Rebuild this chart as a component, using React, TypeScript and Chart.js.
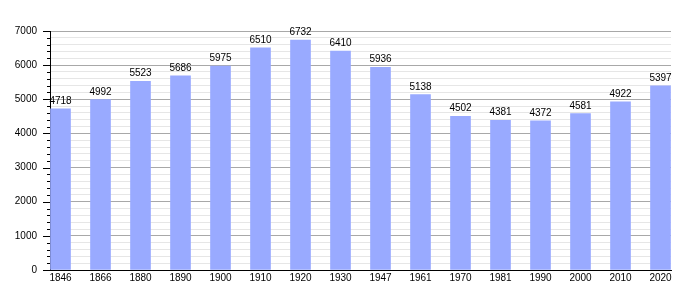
import React, { useEffect, useRef } from "react";
import { Chart, registerables } from "chart.js";

Chart.register(...registerables);

const years = ["1846", "1866", "1880", "1890", "1900", "1910", "1920", "1930", "1947", "1961", "1970", "1981", "1990", "2000", "2010", "2020"];
const population = [4718, 4992, 5523, 5686, 5975, 6510, 6732, 6410, 5936, 5138, 4502, 4381, 4372, 4581, 4922, 5397];
const yTickValues = Array.from({ length: 36 }, (_, i) => i * 200);

const FONT = '"Liberation Sans", Arial, sans-serif';

const valueLabels = {
  id: "valueLabels",
  afterDatasetsDraw(chart: any) {
    const ctx = chart.ctx;
    const meta = chart.getDatasetMeta(0);
    ctx.save();
    ctx.font = `10px ${FONT}`;
    ctx.fillStyle = "#000";
    ctx.textAlign = "center";
    ctx.textBaseline = "alphabetic";
    meta.data.forEach((el: any, i: number) => {
      ctx.fillText(String(population[i]), el.x, el.y - 5);
    });
    ctx.restore();
  },
};

const axisTicks = {
  id: "axisTicks",
  afterDraw(chart: any) {
    const ctx = chart.ctx;
    const y = chart.scales.y;
    const left = chart.chartArea.left;
    ctx.save();
    ctx.strokeStyle = "#000";
    ctx.lineWidth = 1;
    ctx.beginPath();
    yTickValues.forEach((v) => {
      const py = Math.round(y.getPixelForValue(v)) + 0.5;
      const len = v % 1000 === 0 ? 7 : 3;
      ctx.moveTo(left - len, py);
      ctx.lineTo(left, py);
    });
    ctx.stroke();
    ctx.restore();
  },
};

export default function App() {
  const ref = useRef<HTMLCanvasElement>(null);
  useEffect(() => {
    if (!ref.current) return;
    const chart = new Chart(ref.current, {
      type: "bar",
      data: {
        datasets: [
          {
            data: population.map((v, i) => ({ x: i, y: v })),
            backgroundColor: "#99aaff",
            borderWidth: 0,
            barThickness: 20,
          },
        ],
      },
      options: {
        animation: false,
        responsive: false,
        devicePixelRatio: 1,
        layout: { padding: { top: 31, right: 29, left: 0, bottom: 0 } },
        plugins: { legend: { display: false }, tooltip: { enabled: false } },
        scales: {
          x: {
            type: "linear",
            offset: false,
            min: -0.2625,
            max: 15.2625,
            afterBuildTicks: (scale: any) => {
              scale.ticks = years.map((_, i) => ({ value: i }));
            },
            afterFit: (scale: any) => {
              scale.height = 30;
            },
            grid: { display: false, drawTicks: false, offset: false },
            border: { display: true, color: "#000", width: 1 },
            ticks: {
              autoSkip: false,
              maxRotation: 0,
              padding: 2,
              color: "#000",
              font: { size: 10, family: FONT },
              callback: (v: any) => years[v] ?? "",
            },
          },
          y: {
            type: "linear",
            min: 0,
            max: 7000,
            afterBuildTicks: (scale: any) => {
              scale.ticks = yTickValues.map((v) => ({ value: v }));
            },
            afterFit: (scale: any) => {
              scale.width = 50;
            },
            grid: {
              drawTicks: false,
              color: (c: any) => (c.tick && c.tick.value % 1000 === 0 ? "#a8a8a8" : "#e6e6e6"),
            },
            border: { display: true, color: "#000", width: 1 },
            ticks: {
              autoSkip: false,
              padding: 13,
              color: "#000",
              font: { size: 10, family: FONT },
              callback: (v: any) => (Number(v) % 1000 === 0 ? String(v) : ""),
            },
          },
        },
      },
      plugins: [valueLabels, axisTicks],
    });
    return () => chart.destroy();
  }, []);
  return (
    <div style={{ position: "absolute", left: 0, top: 0, width: 700, height: 300, background: "#fff" }}>
      <canvas ref={ref} width={700} height={300} />
    </div>
  );
}
